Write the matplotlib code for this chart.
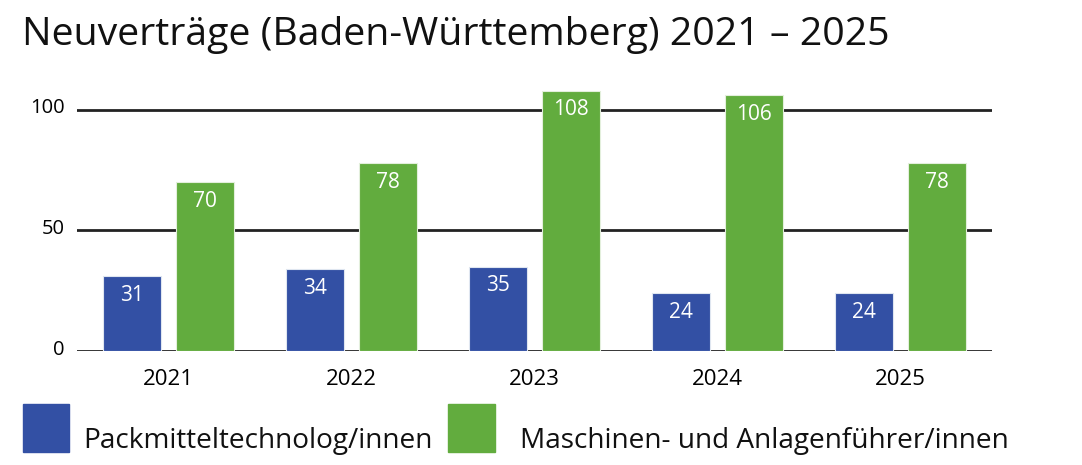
import matplotlib
matplotlib.use('Agg')
import matplotlib.pyplot as plt
import matplotlib.patches as mpatches
import matplotlib.transforms as mtransforms
import numpy as np

plt.rcParams.update({
    'font.family': ['Open Sans', 'DejaVu Sans'],
    'text.color': '#111111',
})

BLUE = '#3350A4'
GREEN = '#62AC3E'
GRID = '#222222'

# ---------- Data ----------
years = ['2021', '2022', '2023', '2024', '2025']
packmittel = [31, 34, 35, 24, 24]
maschinen = [70, 78, 108, 106, 78]
series_names = ['Packmitteltechnolog/innen', 'Maschinen- und Anlagenführer/innen']
y_ticks = [0, 50, 100]

# ---------- Figure ----------
fig = plt.figure(figsize=(10.82, 4.65), dpi=100)
ax = fig.add_axes([77 / 1082, 1 - 351 / 465, 915 / 1082, 271 / 465])

x = np.arange(len(years))
w = 0.317
off = 0.199

for yv in y_ticks:
    ax.axhline(yv, color=GRID, lw=2, zorder=1)

b1 = ax.bar(x - off, packmittel, width=w, color=BLUE, edgecolor='#dfe6f0',
            linewidth=0.8, zorder=2)
b2 = ax.bar(x + off, maschinen, width=w, color=GREEN, edgecolor='#e3efdc',
            linewidth=0.8, zorder=2)

for bars, vals in ((b1, packmittel), (b2, maschinen)):
    for rect, v in zip(bars, vals):
        ax.text(rect.get_x() + rect.get_width() / 2, v - 8, str(v),
                ha='center', va='center', color='white', fontsize=15, zorder=3)

ax.set_xlim(-0.5, len(years) - 0.5)
ax.set_ylim(0, 112.4)
ax.set_xticks(x)
ax.set_xticklabels(years, fontsize=16)
ax.set_yticks(y_ticks)
ax.set_yticklabels([str(t) for t in y_ticks], fontsize=14.5)
ax.tick_params(axis='both', length=0)
ax.tick_params(axis='x', pad=13)
ax.tick_params(axis='y', pad=9)
# labels sit a little above their gridline
shift = mtransforms.ScaledTranslation(0, 4 / 100, fig.dpi_scale_trans)
for lbl in ax.get_yticklabels():
    lbl.set_transform(lbl.get_transform() + shift)
for s in ax.spines.values():
    s.set_visible(False)

# Title
fig.text(22 / 1082, 1 - 35 / 465, 'Neuverträge (Baden-Württemberg) 2021 – 2025',
         fontsize=28.3, ha='left', va='center')

# Legend
leg_y = 1 - 452 / 465
fig.patches.append(mpatches.Rectangle((23 / 1082, leg_y), 46 / 1082, 48 / 465,
                                      transform=fig.transFigure, color=BLUE))
fig.patches.append(mpatches.Rectangle((448 / 1082, leg_y), 47 / 1082, 48 / 465,
                                      transform=fig.transFigure, color=GREEN))
fig.text(83 / 1082, 1 - 441 / 465, series_names[0], fontsize=20.2, ha='left', va='center')
fig.text(520 / 1082, 1 - 441 / 465, series_names[1], fontsize=20.2, ha='left', va='center')

fig.savefig('out.png', dpi=100)
